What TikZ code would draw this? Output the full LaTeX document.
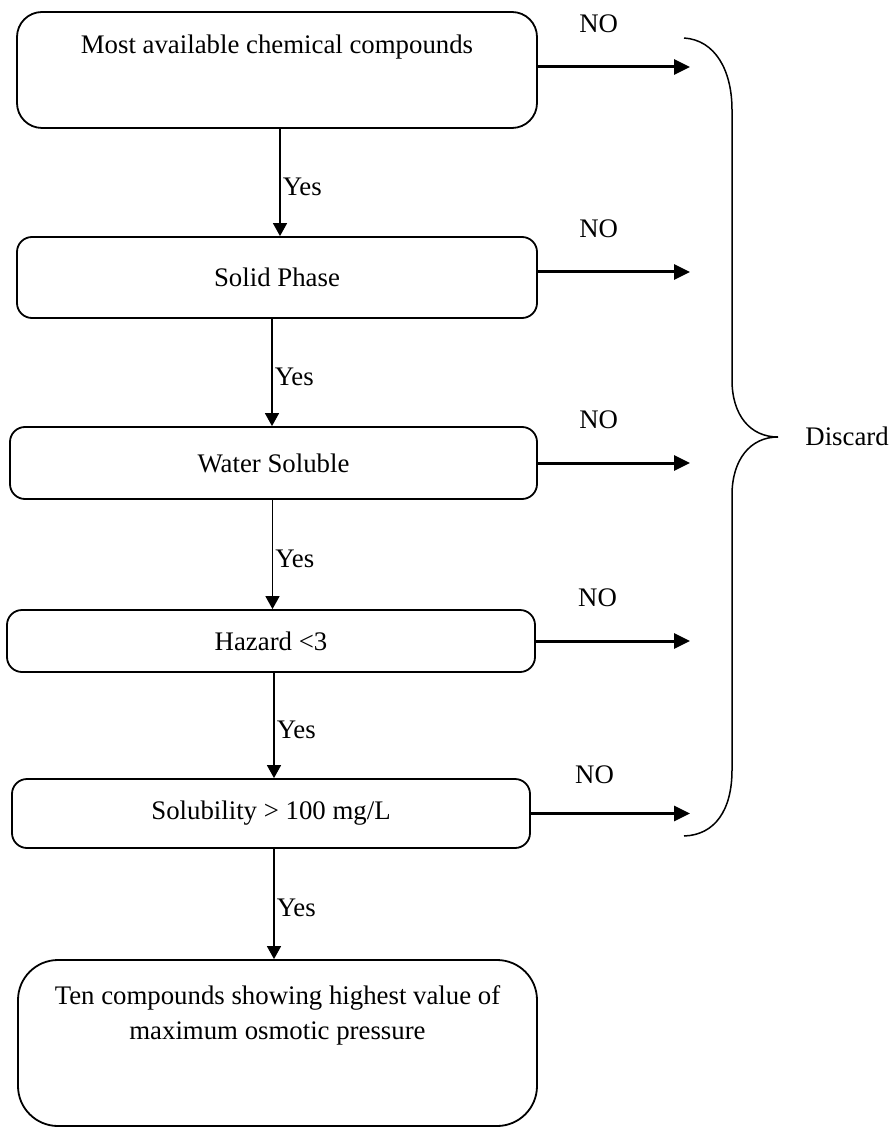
\documentclass[tikz,border=0pt]{standalone}
\usepackage{fontspec}
\setmainfont{Liberation Serif}
\usetikzlibrary{arrows.meta}

\begin{document}
\begin{tikzpicture}[x=0.5pt, y=-0.5pt,
    box/.style={draw, line width=0.9pt, rounded corners=7.5pt, align=center,
        inner sep=0pt, font=\fontsize{13.4}{17.5}\selectfont},
    yesarrow/.style={line width=0.75pt, -{Triangle[length=6.5pt,width=7pt]}},
    noarrow/.style={line width=1.5pt, -{Triangle[length=8pt,width=7.5pt]}},
    lbl/.style={font=\fontsize{13.4}{16}\selectfont}]
    \useasboundingbox (0,0) rectangle (891,1128);

    % steps
    \node[box, rounded corners=12.5pt, minimum width=260pt, text height=21pt, text depth=37pt] (b1) at (277,70) {Most available chemical compounds};
    \node[box, minimum width=260pt, minimum height=40.5pt] (b2) at (277,277.5) {Solid Phase};
    \node[box, minimum width=263.5pt, minimum height=36pt] (b3) at (273.5,463) {Water Soluble};
    \node[box, minimum width=264pt, minimum height=31pt] (b4) at (271,641) {Hazard {<}3};
    \node[box, minimum width=259pt, minimum height=34.5pt] (b5) at (271,813.5) {Solubility {>} 100 mg/L};
    \node[box, rounded corners=20pt, minimum width=259.5pt, text height=39.5pt, text depth=43.5pt] (b6) at (277.5,1043) {Ten compounds showing highest value of\\maximum osmotic pressure};

    % yes branch
    \draw[yesarrow] ([xshift=1.5pt]b1.south) -- ([xshift=1.5pt]b1.south |- b2.north) node[midway, right, inner sep=1pt, yshift=-2pt, lbl] {Yes};
    \draw[yesarrow] ([xshift=-2.5pt]b2.south) -- ([xshift=-2.5pt]b2.south |- b3.north) node[midway, right, inner sep=1pt, yshift=-2pt, lbl] {Yes};
    \draw[yesarrow] ([xshift=-0.5pt]b3.south) -- ([xshift=-0.5pt]b3.south |- b4.north) node[midway, right, inner sep=1pt, yshift=-2pt, lbl] {Yes};
    \draw[yesarrow] ([xshift=1.5pt]b4.south) -- ([xshift=1.5pt]b4.south |- b5.north) node[midway, right, inner sep=1pt, yshift=-2pt, lbl] {Yes};
    \draw[yesarrow] ([xshift=1.5pt]b5.south) -- ([xshift=1.5pt]b5.south |- b6.north) node[midway, right, inner sep=1pt, yshift=-2pt, lbl] {Yes};

    % no branch
    \coordinate (tip) at (690,0);
    \draw[noarrow] ([yshift=1.5pt]b1.east) -- ([yshift=1.5pt]b1.east -| tip) node[pos=0.4, above=13pt, lbl] {NO};
    \draw[noarrow] ([yshift=2.75pt]b2.east) -- ([yshift=2.75pt]b2.east -| tip) node[pos=0.4, above=13pt, lbl] {NO};
    \draw[noarrow] (b3.east) -- (b3.east -| tip) node[pos=0.4, above=13pt, lbl] {NO};
    \draw[noarrow] (b4.east) -- (b4.east -| tip) node[pos=0.4, above=13pt, lbl] {NO};
    \draw[noarrow] (b5.east) -- (b5.east -| tip) node[pos=0.4, above=11pt, lbl] {NO};

    % brace
    \draw[line width=0.75pt] (684,38) .. controls (715,40) and (732,70) .. (732,110) -- (732,380)
        .. controls (732,415) and (750,437) .. (778,437)
        .. controls (750,437) and (732,460) .. (732,495) -- (732,770)
        .. controls (732,810) and (715,835) .. (684,836);
    \node[lbl, anchor=west, inner sep=0pt] (discard) at (805,436) {Discard};
\end{tikzpicture}
\end{document}
